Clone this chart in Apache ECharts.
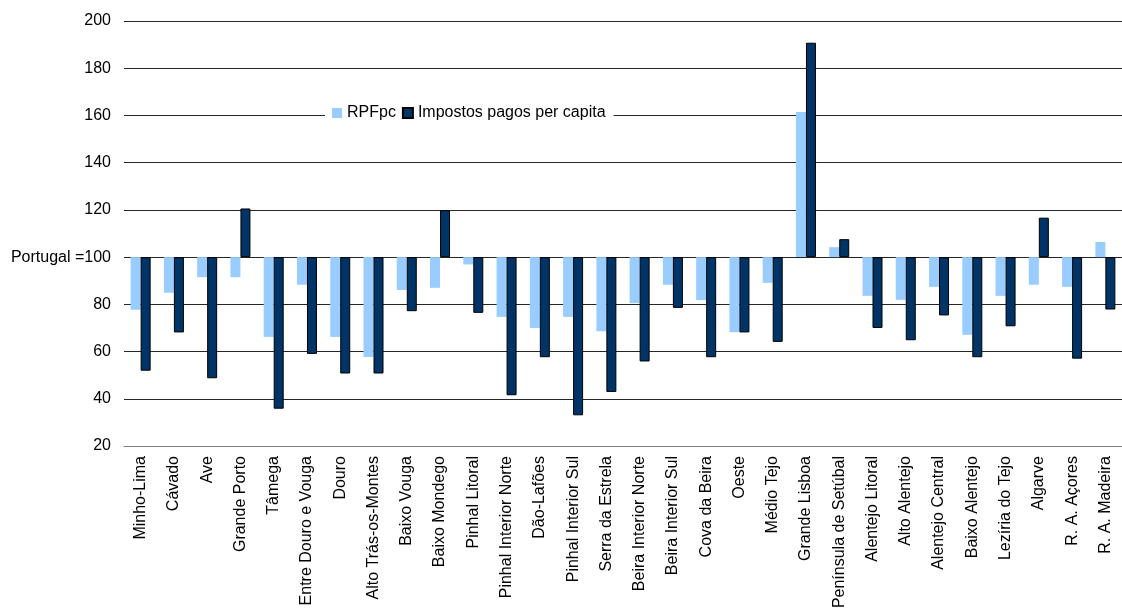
<!DOCTYPE html>
<html>
<head>
<meta charset="utf-8">
<script src="https://cdn.jsdelivr.net/npm/echarts@6/dist/echarts.min.js"></script>
<style>
  html, body { margin: 0; padding: 0; background: #fff; }
  #chart { width: 1122px; height: 612px; }
</style>
</head>
<body>
<div id="chart"></div>
<script>
// NUTS III regions, index Portugal = 100
const regions = [
  'Minho-Lima', 'Cávado', 'Ave', 'Grande Porto', 'Tâmega', 'Entre Douro e Vouga',
  'Douro', 'Alto Trás-os-Montes', 'Baixo Vouga', 'Baixo Mondego', 'Pinhal Litoral',
  'Pinhal Interior Norte', 'Dão-Lafões', 'Pinhal Interior Sul', 'Serra da Estrela',
  'Beira Interior Norte', 'Beira Interior Sul', 'Cova da Beira', 'Oeste', 'Médio Tejo',
  'Grande Lisboa', 'Península de Setúbal', 'Alentejo Litoral', 'Alto Alentejo',
  'Alentejo Central', 'Baixo Alentejo', 'Lezíria do Tejo', 'Algarve', 'R. A. Açores',
  'R. A. Madeira'
];

const rpfpc = [
  77.7, 84.9, 91.5, 91.5, 66.2, 88.3,
  66.2, 57.7, 86.1, 87.0, 96.9,
  74.7, 70.0, 74.7, 68.6,
  80.5, 88.3, 81.8, 68.2, 89.1,
  161.5, 104.2, 83.6, 81.9,
  87.4, 67.1, 83.6, 88.3, 87.4,
  106.4
];

const impostos = [
  51.9, 68.1, 48.7, 120.6, 35.8, 59.0,
  50.7, 50.7, 77.1, 119.9, 76.4,
  41.5, 57.6, 33.0, 42.9,
  55.8, 78.5, 57.6, 68.1, 64.1,
  190.8, 107.6, 70.0, 64.8,
  75.3, 57.6, 70.7, 116.7, 57.0,
  77.8
];

// Bars grow from the national reference level
const reference = 100;
const yMin = 20, yMax = 200, yStep = 20;

const font = "'Liberation Sans', Arial, sans-serif";
const chart = echarts.init(document.getElementById('chart'), null, { renderer: 'canvas' });

chart.setOption({
  animation: false,
  backgroundColor: '#ffffff',
  textStyle: { fontFamily: font, color: '#000' },
  grid: { left: 124, right: 0, top: 21, bottom: 166, containLabel: false },
  legend: {
    data: ['RPFpc', 'Impostos pagos per capita'],
    left: 325,
    top: 102,
    padding: [3, 8, 3, 7],
    backgroundColor: '#ffffff',
    itemWidth: 10,
    itemHeight: 10,
    itemGap: 6,
    icon: 'rect',
    textStyle: { fontFamily: font, fontSize: 16, color: '#000' }
  },
  xAxis: {
    type: 'category',
    data: regions,
    axisLine: { show: true, onZero: false, lineStyle: { color: '#808080', width: 1 } },
    axisTick: { show: false },
    axisLabel: {
      interval: 0,
      rotate: 90,
      margin: 10,
      fontFamily: font,
      fontSize: 16,
      color: '#000'
    }
  },
  yAxis: {
    type: 'value',
    min: yMin - reference,
    max: yMax - reference,
    interval: yStep,
    axisLine: { show: false },
    axisTick: { show: false },
    splitLine: { show: true, lineStyle: { color: '#262626', width: 1 } },
    axisLabel: {
      margin: 13,
      fontFamily: font,
      fontSize: 16,
      color: '#000',
      formatter: v => (v === 0 ? 'Portugal =' : '') + String(v + reference)
    }
  },
  series: [
    {
      name: 'RPFpc',
      type: 'bar',
      data: rpfpc.map(v => +(v - reference).toFixed(2)),
      barWidth: 10,
      barGap: '0%',
      itemStyle: { color: '#99CCFF' }
    },
    {
      name: 'Impostos pagos per capita',
      type: 'bar',
      data: impostos.map(v => +(v - reference).toFixed(2)),
      barWidth: 10,
      barGap: '0%',
      itemStyle: { color: '#003366', borderColor: '#000000', borderWidth: 1 }
    }
  ]
});
</script>
</body>
</html>
